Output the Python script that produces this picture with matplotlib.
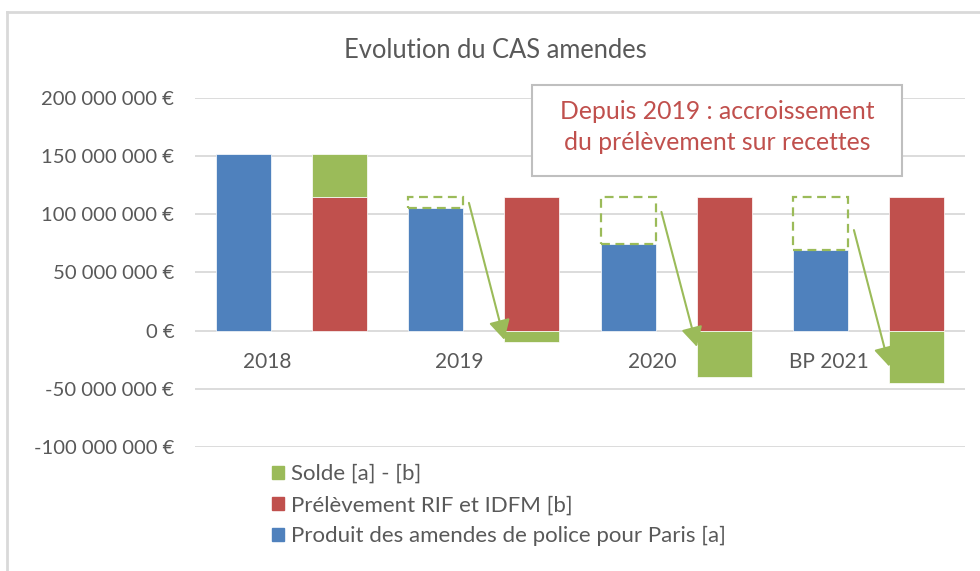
import matplotlib
matplotlib.use("Agg")
import matplotlib.pyplot as plt
from matplotlib.patches import Rectangle
from matplotlib.lines import Line2D
from matplotlib.ticker import FuncFormatter

plt.rcParams['font.family'] = ['Lato', 'DejaVu Sans']

# ---- data ----
categories = ["2018", "2019", "2020", "BP 2021"]
produit = [152.0e6, 105.0e6, 74.5e6, 69.0e6]          # [a]
prelevement = [114.5e6, 114.5e6, 114.5e6, 114.5e6]    # [b]
solde = [37.5e6, -9.5e6, -40.0e6, -45.5e6]            # [a] - [b]
series_labels = ["Solde [a] - [b]", "Prélèvement RIF et IDFM [b]",
                 "Produit des amendes de police pour Paris [a]"]
title = "Evolution du CAS amendes"
note_lines = ["Depuis 2019 : accroissement", "du prélèvement sur recettes"]
# arrows (annotation only): start/end heights for years with negative balance
arrow_start_y = [None, 109.8e6, 102.0e6, 86.4e6]
arrow_end_y = [None, -8.0e6, -14.0e6, -31.0e6]

BLUE = "#4F81BD"
RED = "#C0504D"
GREEN = "#9BBB59"
TXT = "#595959"
GRID = "#D9D9D9"

W, H = 980, 571
fig = plt.figure(figsize=(W / 100, H / 100), dpi=100)
fig.patch.set_facecolor("white")

top_px, bot_px = 98, 446.8
left_px, right_px = 195, 965
ax = fig.add_axes([left_px / W, 1 - bot_px / H, (right_px - left_px) / W, (bot_px - top_px) / H])

x = list(range(len(categories)))
bw = 0.286
off = 0.25
xb = [i - off for i in x]
xr = [i + off for i in x]

ax.bar(xb, produit, width=bw, color=BLUE, edgecolor="white", linewidth=0.5, zorder=3)
ax.bar(xr, prelevement, width=bw, color=RED, edgecolor="white", linewidth=0.5, zorder=3)
# Solde stacked on top of the red bar when positive, below zero when negative
solde_bottom = [p if s >= 0 else 0 for p, s in zip(prelevement, solde)]
ax.bar(xr, solde, bottom=solde_bottom, width=bw, color=GREEN, edgecolor="white", linewidth=0.5, zorder=3)

# dashed rectangles showing the gap between [a] and [b]
for i in x:
    if solde[i] < 0:
        ax.bar(xb[i], prelevement[i] - produit[i], bottom=produit[i], width=bw,
               fill=False, edgecolor=GREEN, linestyle=(0, (4, 2.5)), linewidth=1.6, zorder=4)
        ax.annotate("", xy=(xr[i] - bw / 2, arrow_end_y[i]),
                    xytext=(xb[i] + bw / 2 + 0.03, arrow_start_y[i]),
                    arrowprops=dict(arrowstyle="-|>,head_length=12,head_width=6.5",
                                    mutation_scale=1, color=GREEN, lw=1.5,
                                    shrinkA=0, shrinkB=0),
                    zorder=5)

ax.set_xlim(-0.5, 3.5)
ax.set_ylim(-100e6, 200e6)
ax.set_yticks([-100e6, -50e6, 0, 50e6, 100e6, 150e6, 200e6])

def fmt(v, pos):
    n = int(round(v))
    s = f"{abs(n):,}".replace(",", " ")
    return ("-" if n < 0 else "") + s + " €"

ax.yaxis.set_major_formatter(FuncFormatter(fmt))
ax.tick_params(axis="y", length=0, pad=15, labelsize=14.6, labelcolor=TXT)
ax.set_xticks([])
ax.grid(axis="y", color=GRID, linewidth=1.3, zorder=0)
for sp in ax.spines.values():
    sp.set_visible(False)

for i, c in zip(x, categories):
    ax.annotate(c, xy=(i, 0), xytext=(0, -22.5), textcoords="offset points",
                ha="right", va="center", fontsize=15, color=TXT)

fig.text(495 / W, 1 - 50 / H, title, ha="center", va="center", fontsize=18.4, color=TXT)

# note box
bx0, bx1, by0, by1 = 532, 902, 85, 176
fig.add_artist(Rectangle((bx0 / W, 1 - by1 / H), (bx1 - bx0) / W, (by1 - by0) / H,
                         transform=fig.transFigure, facecolor="white",
                         edgecolor="#BFBFBF", linewidth=1.5, zorder=10))
fig.text(717 / W, 1 - 111.7 / H, note_lines[0], ha="center", va="center",
         fontsize=17.8, color=RED, zorder=11)
fig.text(717 / W, 1 - 143 / H, note_lines[1], ha="center", va="center",
         fontsize=17.8, color=RED, zorder=11)

# legend
handles = [Rectangle((0, 0), 1, 1, color=GREEN), Rectangle((0, 0), 1, 1, color=RED),
           Rectangle((0, 0), 1, 1, color=BLUE)]
leg = fig.legend(handles, series_labels, loc="upper left",
                 bbox_to_anchor=(261 / W, 1 - 453 / H), frameon=False,
                 fontsize=16, labelcolor=TXT, handlelength=0.55, handleheight=0.55,
                 handletextpad=0.31, labelspacing=0.5, borderpad=0)

# chart border (left and top)
fig.add_artist(Line2D([7 / W, 7 / W], [0, 1 - 12 / H], transform=fig.transFigure,
                      color=GRID, linewidth=2))
fig.add_artist(Line2D([7 / W, 1], [1 - 12 / H, 1 - 12 / H], transform=fig.transFigure,
                      color=GRID, linewidth=2))

fig.savefig("out.png", dpi=100, facecolor="white")
